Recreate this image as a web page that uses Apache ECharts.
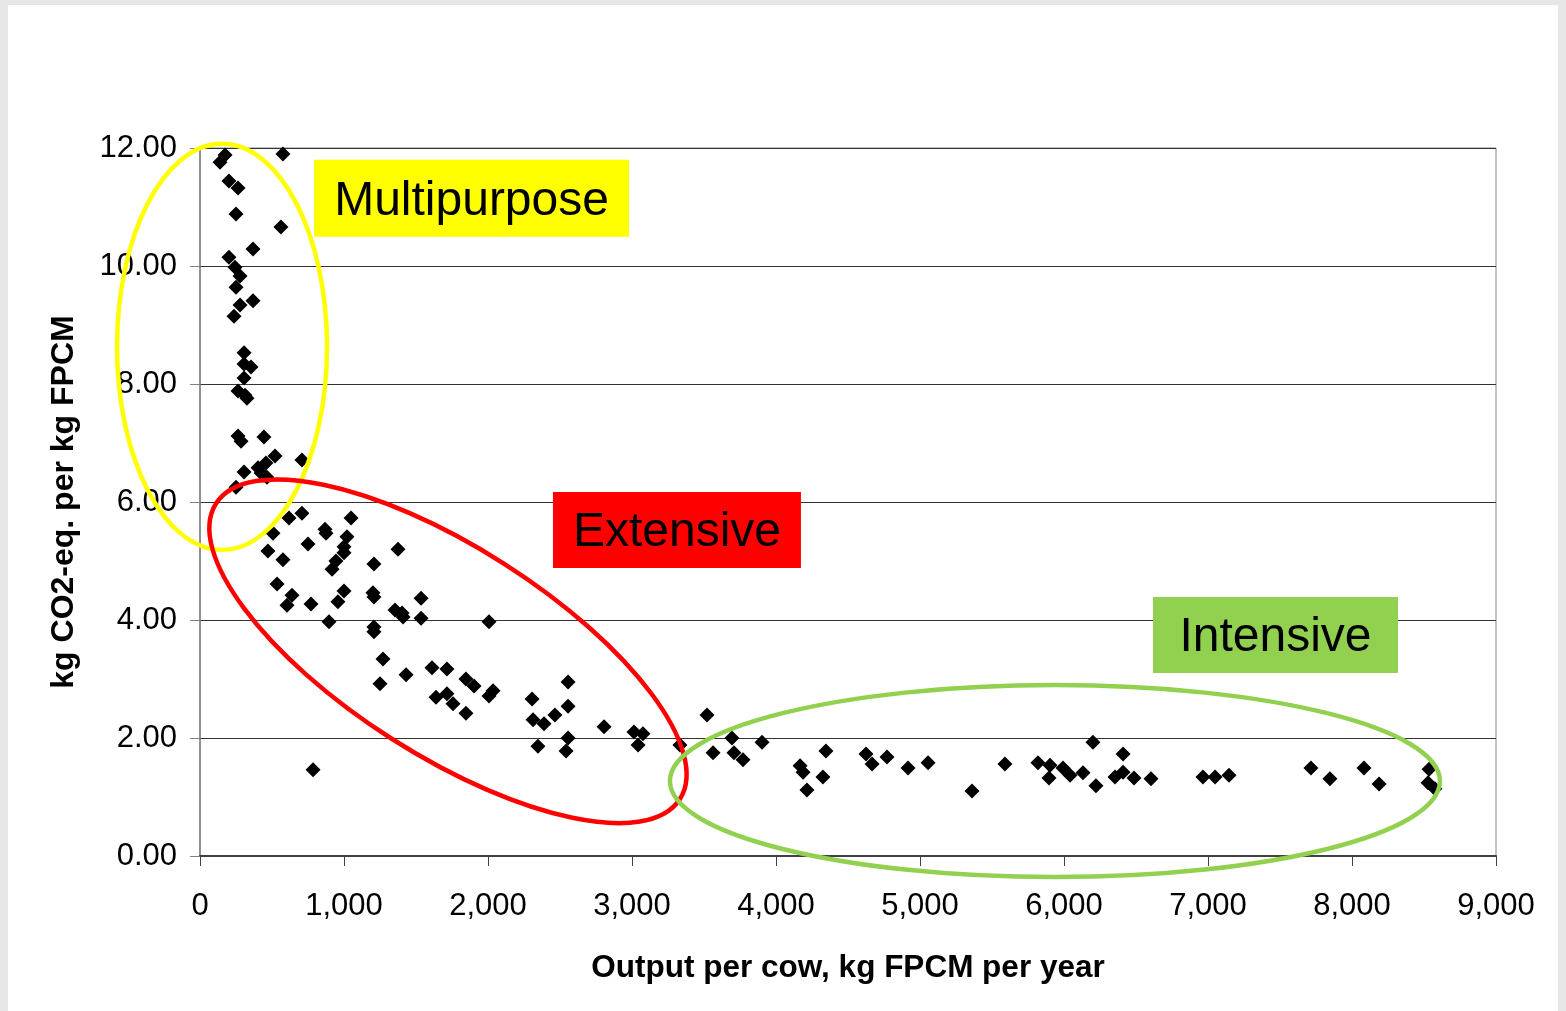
<!DOCTYPE html>
<html>
<head>
<meta charset="utf-8">
<script src="https://cdn.jsdelivr.net/npm/echarts@6/dist/echarts.min.js"></script>
<style>
  html, body { margin: 0; padding: 0; background: #e6e6e6; width: 1566px; height: 1011px; overflow: hidden; }
  #chart { position: absolute; left: 8px; top: 5px; width: 1550px; height: 1006px; background: #ffffff; }
</style>
</head>
<body>
<div id="chart"></div>
<script>
// ---- Data ----
const xTicks = [0, 1000, 2000, 3000, 4000, 5000, 6000, 7000, 8000, 9000];
const yTicks = [0, 2, 4, 6, 8, 10, 12];

const multipurpose = [
  [139,11.76],[174,11.88],[576,11.90],[201,11.44],[264,11.32],[250,10.88],[562,10.66],[368,10.29],
  [201,10.15],[243,9.98],[278,9.83],[250,9.64],[368,9.41],[278,9.34],[236,9.15],
  [306,8.53],[306,8.34],[354,8.29],[306,8.10],[264,7.88],[313,7.81],[326,7.76],[264,7.12],[285,7.03],
  [444,7.10],[521,6.78],[708,6.71],[306,6.51],[403,6.58],[458,6.66],[424,6.49],[465,6.42],[250,6.25]
];
const extensive = [
  [618,5.73],[708,5.81],[868,5.54],[1049,5.73],[507,5.47],[875,5.47],[1021,5.41],[750,5.29],[472,5.17],
  [1000,5.24],[1000,5.14],[1375,5.20],[576,5.02],[944,5.00],[917,4.86],[1208,4.95],[535,4.61],[639,4.42],
  [604,4.25],[771,4.27],[1000,4.49],[958,4.31],[1201,4.46],[1208,4.39],[1535,4.37],[1354,4.17],[1403,4.12],
  [1410,4.05],[1535,4.03],[896,3.97],[1208,3.88],[1208,3.80],[2007,3.97],[1271,3.34],[1250,2.92],[1431,3.07],
  [1611,3.19],[1715,3.17],[1847,3.00],[1903,2.88],[1639,2.69],[1715,2.75],[1757,2.58],[1847,2.42],[2035,2.80],
  [2007,2.71],[2306,2.66],[2313,2.31],[2389,2.24],[2347,1.86],[785,1.46],[2556,2.95],[2556,2.54],[2465,2.39],
  [2556,2.00],[2542,1.78],[2806,2.19],[3014,2.10],[3076,2.07],[3042,1.88],[3333,1.88]
];
const intensive = [
  [3521,2.39],[3563,1.75],[3694,2.00],[3708,1.75],[3771,1.63],[3903,1.93],[4167,1.53],[4188,1.42],[4215,1.12],
  [4347,1.78],[4326,1.34],[4625,1.73],[4667,1.56],[4771,1.68],[4917,1.49],[5056,1.58],[5361,1.10],[5590,1.56],
  [5819,1.58],[5903,1.54],[5896,1.32],[5993,1.49],[6042,1.37],[6132,1.41],[6201,1.93],[6222,1.19],[6354,1.34],
  [6410,1.73],[6410,1.42],[6486,1.32],[6604,1.31],[6965,1.34],[7049,1.34],[7146,1.37],[7715,1.49],[7847,1.31],
  [8083,1.49],[8188,1.22],[8535,1.47],[8528,1.24],[8576,1.14]
];

const groupLabels = ['Multipurpose', 'Extensive', 'Intensive'];
const xAxisTitle = 'Output per cow, kg FPCM per year';
const yAxisTitle = 'kg CO2-eq. per kg FPCM';

// ---- Chart ----
const FONT = '"Liberation Sans", Arial, sans-serif';
const chart = echarts.init(document.getElementById('chart'), null, { renderer: 'canvas' });

function fmtThousands(v) {
  return String(Math.round(v)).replace(/\B(?=(\d{3})+(?!\d))/g, ',');
}

const markerStyle = { symbol: 'diamond', symbolSize: 15, itemStyle: { color: '#000000', opacity: 1 } };

chart.setOption({
  backgroundColor: '#ffffff',
  animation: false,
  grid: {
    left: 192, top: 143, right: 62, bottom: 155,
    show: true, borderColor: '#888888', borderWidth: 1, backgroundColor: 'transparent'
  },
  xAxis: {
    type: 'value', min: xTicks[0], max: xTicks[xTicks.length - 1], interval: 1000,
    name: xAxisTitle, nameLocation: 'middle', nameGap: 96,
    nameTextStyle: { fontFamily: FONT, fontSize: 31.5, fontWeight: 'bold', color: '#000' },
    axisLine: { show: true, lineStyle: { color: '#404040', width: 2 } },
    axisTick: { show: true, inside: false, length: 10, lineStyle: { color: '#404040', width: 1 } },
    axisLabel: { fontFamily: FONT, fontSize: 31, color: '#000', margin: 35, formatter: fmtThousands },
    splitLine: { show: false }
  },
  yAxis: {
    type: 'value', min: yTicks[0], max: yTicks[yTicks.length - 1], interval: 2,
    name: yAxisTitle, nameLocation: 'middle', nameGap: 120, nameRotate: 90,
    nameTextStyle: { fontFamily: FONT, fontSize: 32, fontWeight: 'bold', color: '#000' },
    axisLine: { show: true, lineStyle: { color: '#808080', width: 1.5 } },
    axisTick: { show: true, inside: false, length: 10, lineStyle: { color: '#808080', width: 1 } },
    axisLabel: { fontFamily: FONT, fontSize: 31, color: '#000', margin: 23, padding: [12, 0, 0, 0],
                 formatter: v => v.toFixed(2) },
    splitLine: { show: true, lineStyle: { color: '#333333', width: 1 } }
  },
  series: [
    Object.assign({ type: 'scatter', name: groupLabels[0], data: multipurpose, z: 3 }, markerStyle),
    Object.assign({ type: 'scatter', name: groupLabels[1], data: extensive, z: 3 }, markerStyle),
    Object.assign({ type: 'scatter', name: groupLabels[2], data: intensive, z: 3 }, markerStyle)
  ]
});

// ---- Annotations (ellipses and labelled boxes), anchored in data space ----
function px(pt) { return chart.convertToPixel({ gridIndex: 0 }, pt); }
const ellipses = [
  { center: [153, 8.63], rx: 105, ry: 203, rot: 0, color: '#ffff00' },
  { center: [1722, 3.47], rx: 275, ry: 104, rot: -32.5 * Math.PI / 180, color: '#ff0000' },
  { center: [5937, 1.27], rx: 385, ry: 96, rot: 0, color: '#92d050' }
];
const boxes = [
  { text: groupLabels[0], anchor: [792, 11.8], w: 315, h: 77, color: '#ffff00' },
  { text: groupLabels[1], anchor: [2451, 6.17], w: 248, h: 76, color: '#ff0000' },
  { text: groupLabels[2], anchor: [6618, 4.39], w: 245, h: 76, color: '#92d050' }
];
const graphics = [];
ellipses.forEach(e => {
  const c = px(e.center);
  graphics.push({
    type: 'ellipse', x: c[0], y: c[1], rotation: e.rot, z: 10,
    shape: { cx: 0, cy: 0, rx: e.rx, ry: e.ry },
    style: { fill: null, stroke: e.color, lineWidth: 4.5 }
  });
});
boxes.forEach(b => {
  const p = px(b.anchor);
  graphics.push({
    type: 'group', x: p[0], y: p[1], z: 11,
    children: [
      { type: 'rect', shape: { x: 0, y: 0, width: b.w, height: b.h }, style: { fill: b.color } },
      { type: 'text', x: b.w / 2, y: b.h / 2 + 3,
        style: { text: b.text, fontFamily: FONT, fontSize: 48, fill: '#000', align: 'center', verticalAlign: 'middle' } }
    ]
  });
});
chart.setOption({ graphic: graphics });
</script>
</body>
</html>
